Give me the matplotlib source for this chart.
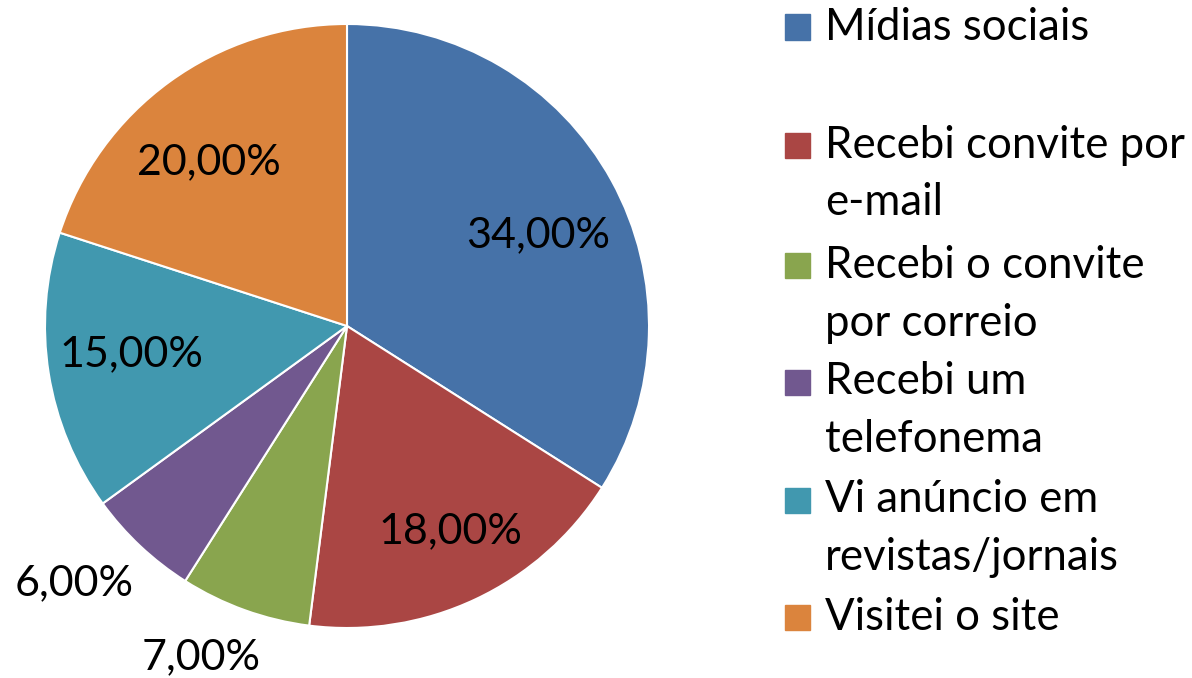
import matplotlib as mpl
mpl.use('Agg')
import matplotlib.pyplot as plt
import numpy as np

# data
categories = ['Mídias sociais', 'Recebi convite por\ne-mail', 'Recebi o convite\npor correio',
              'Recebi um\ntelefonema', 'Vi anúncio em\nrevistas/jornais', 'Visitei o site']
shares = [34, 18, 7, 6, 15, 20]
pct_labels = ['34,00%', '18,00%', '7,00%', '6,00%', '15,00%', '20,00%']
colors = ['#4672A8', '#AA4644', '#89A54E', '#71588F', '#4198AF', '#DB843D']

# where each percentage sits (fraction of the radius), outside for the small ones
label_dist = [0.70, 0.76, 1.20, 1.24, 0.72, 0.71]
label_shift = [-3.5, 1.5, -4.0, -3.5, -1.5, 4.0]   # small angle tweaks, degrees

plt.rcParams['font.family'] = ['Lato', 'DejaVu Sans']

fig = plt.figure(figsize=(11.92, 6.78), dpi=100)
ax = fig.add_axes([45 / 1192, 50 / 678, 604 / 1192, 604 / 678])

wedges, _ = ax.pie(shares, colors=colors, startangle=90, counterclock=False,
                   radius=1.0, wedgeprops=dict(edgecolor='white', linewidth=1.5))
ax.set_xlim(-1, 1)
ax.set_ylim(-1, 1)
ax.set_aspect('equal')
ax.axis('off')

for w, txt, d, sh in zip(wedges, pct_labels, label_dist, label_shift):
    ang = np.deg2rad((w.theta1 + w.theta2) / 2 + sh)
    ax.text(d * np.cos(ang), d * np.sin(ang), txt, ha='center', va='center',
            fontsize=31, color='black', clip_on=False)

# legend drawn by hand so the odd Excel spacing can be kept
line_h = 58 / 678
first_line = [27, 145, 265, 382, 500, 617]
for lab, col, y0 in zip(categories, colors, first_line):
    yf = 1 - y0 / 678
    fig.patches.append(plt.Rectangle((785 / 1192, yf - 12.5 / 678), 25 / 1192, 25 / 678,
                                     color=col, transform=fig.transFigure, figure=fig))
    for i, part in enumerate(lab.split('\n')):
        fig.text(825 / 1192, yf - i * line_h, part, ha='left', va='center',
                 fontsize=31.5, color='black')

plt.savefig('out.png', dpi=100)
